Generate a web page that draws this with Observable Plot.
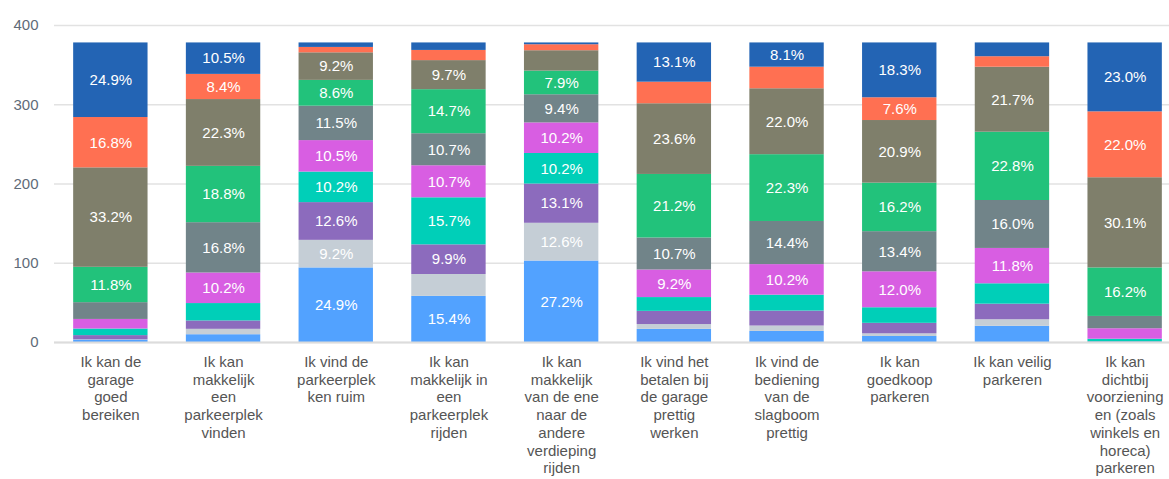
<!DOCTYPE html>
<html>
<head>
<meta charset="utf-8">
<script src="https://cdn.jsdelivr.net/npm/d3@7"></script>
<script src="https://cdn.jsdelivr.net/npm/@observablehq/plot@0.6"></script>
<style>
  html, body { margin: 0; padding: 0; background: #fff; }
  #chart svg { display: block; }
</style>
</head>
<body>
<div id="chart"></div>
<script>
// Statements (x categories)
const categories = [
  "Ik kan de garage goed bereiken",
  "Ik kan makkelijk een parkeerplek vinden",
  "Ik vind de parkeerplek ken ruim",
  "Ik kan makkelijk in een parkeerplek rijden",
  "Ik kan makkelijk van de ene naar de andere verdieping rijden",
  "Ik vind het betalen bij de garage prettig werken",
  "Ik vind de bediening van de slagboom prettig",
  "Ik kan goedkoop parkeren",
  "Ik kan veilig parkeren",
  "Ik kan dichtbij voorzieningen (zoals winkels en horeca) parkeren"
];
const categoryLines = [
  "Ik kan de\ngarage\ngoed\nbereiken",
  "Ik kan\nmakkelijk\neen\nparkeerplek\nvinden",
  "Ik vind de\nparkeerplek\nken ruim",
  "Ik kan\nmakkelijk in\neen\nparkeerplek\nrijden",
  "Ik kan\nmakkelijk\nvan de ene\nnaar de\nandere\nverdieping\nrijden",
  "Ik vind het\nbetalen bij\nde garage\nprettig\nwerken",
  "Ik vind de\nbediening\nvan de\nslagboom\nprettig",
  "Ik kan\ngoedkoop\nparkeren",
  "Ik kan veilig\nparkeren",
  "Ik kan\ndichtbij\nvoorziening\nen (zoals\nwinkels en\nhoreca)\nparkeren"
];

// Number of respondents per statement
const respondents = 378;

// Share (%) per score, bottom (1) to top (10)
const score1  = [0.8, 2.6, 24.9, 15.4, 27.2, 4.4, 3.7, 2.0, 5.4, 0.0];
const score2  = [0.1, 1.8, 9.2, 7.3, 12.6, 1.6, 1.8, 0.9, 2.2, 0.0];
const score3  = [1.4, 2.8, 12.6, 9.9, 13.1, 4.4, 5.0, 3.5, 5.2, 0.2];
const score4  = [2.2, 5.8, 10.2, 15.7, 10.2, 4.6, 5.3, 5.2, 6.8, 0.9];
const score5  = [3.2, 10.2, 10.5, 10.7, 10.2, 9.2, 10.2, 12.0, 11.8, 3.5];
const score6  = [5.6, 16.8, 11.5, 10.7, 9.4, 10.7, 14.4, 13.4, 16.0, 4.1];
const score7  = [11.8, 18.8, 8.6, 14.7, 7.9, 21.2, 22.3, 16.2, 22.8, 16.2];
const score8  = [33.2, 22.3, 9.2, 9.7, 6.8, 23.6, 22.0, 20.9, 21.7, 30.1];
const score9  = [16.8, 8.4, 1.8, 3.4, 2.0, 7.2, 7.2, 7.6, 3.5, 22.0];
const score10 = [24.9, 10.5, 1.5, 2.5, 0.6, 13.1, 8.1, 18.3, 4.6, 23.0];

const seriesNames = ["1","2","3","4","5","6","7","8","9","10"];
const seriesValues = [score1, score2, score3, score4, score5, score6, score7, score8, score9, score10];
const seriesColors = ["#52a2ff", "#c5ced6", "#8c6bbd", "#00cfb8", "#d85ee2",
                      "#718489", "#22c27b", "#7f7f6b", "#ff7052", "#2364b4"];
const yTicks = [0, 100, 200, 300, 400];

const table = [];
categories.forEach((c, i) => {
  seriesNames.forEach((s, j) => {
    const pct = seriesValues[j][i];
    table.push({cat: c, series: s, pct, value: pct / 100 * respondents});
  });
});

const lineOf = new Map(categories.map((c, i) => [c, categoryLines[i]]));

const chart = Plot.plot({
  width: 1169,
  height: 479,
  marginTop: 25,
  marginBottom: 137,
  marginLeft: 54,
  marginRight: 0,
  style: {fontFamily: "'Liberation Sans', Arial, sans-serif", background: "#fff"},
  x: {domain: categories, range: [54, 1181], paddingInner: 0.34, paddingOuter: 0.17, round: false},
  y: {domain: [0, 400]},
  color: {domain: seriesNames, range: seriesColors},
  marks: [
    Plot.gridY(yTicks, {stroke: "#e2e2e2", strokeOpacity: 1, strokeWidth: 1.3}),
    Plot.axisY(yTicks, {tickSize: 0, tickPadding: 16, fontSize: 15, fill: "#5f6b78", label: null}),
    Plot.barY(table, Plot.stackY({x: "cat", y: "value", fill: "series", order: null})),
    Plot.text(table, Plot.stackY({
      x: "cat", y: "value", order: null,
      text: d => d.pct >= 7.5 ? d.pct.toFixed(1) + "%" : null,
      fill: "white", fontSize: 15
    })),
    Plot.ruleY([0], {stroke: "#dcdcdc", strokeWidth: 2}),
    Plot.axisX({tickSize: 0, tickPadding: 12, fontSize: 15, lineHeight: 1.18, fill: "#555",
                tickFormat: d => lineOf.get(d), label: null})
  ]
});
document.getElementById("chart").append(chart);
</script>
</body>
</html>
